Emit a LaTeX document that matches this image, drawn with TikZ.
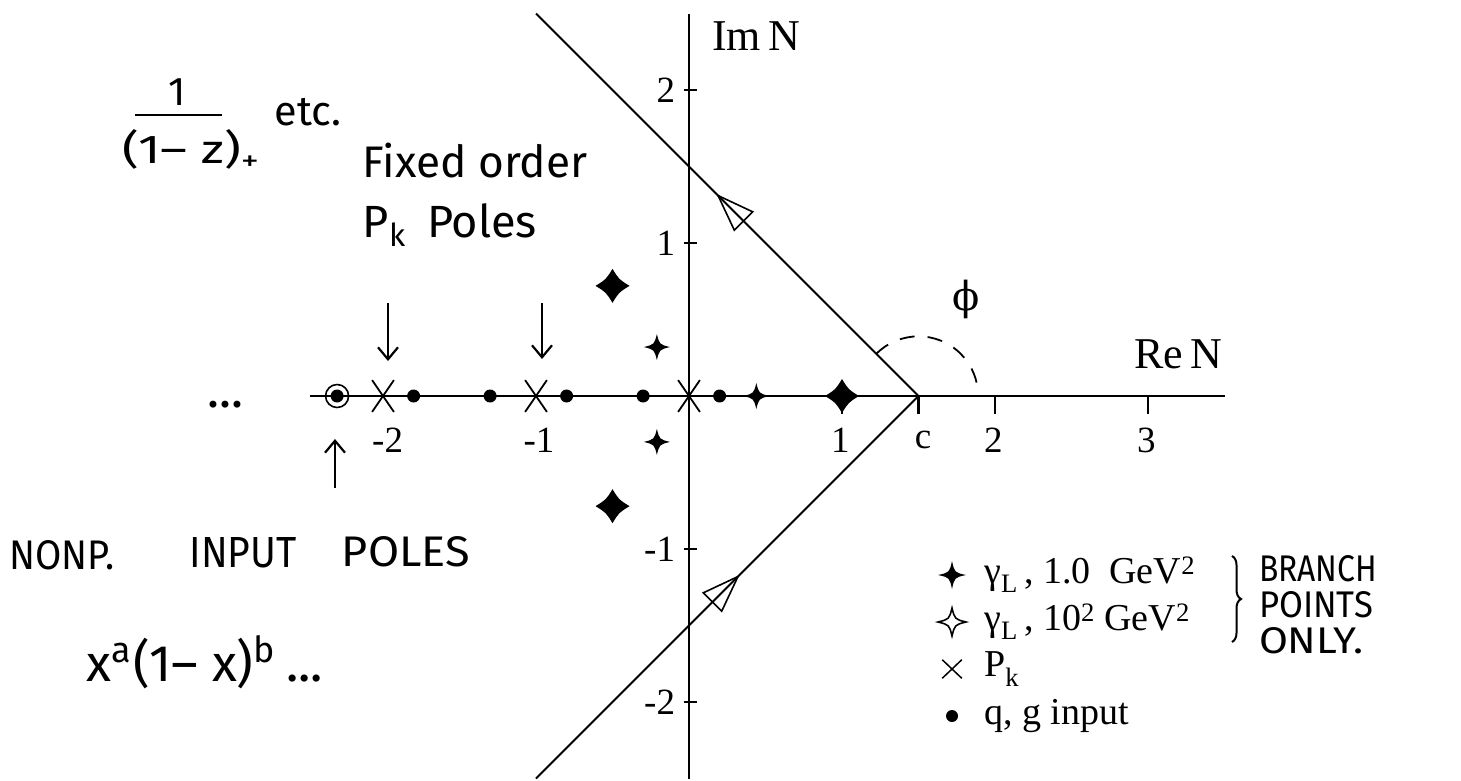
\documentclass[tikz,border=0pt]{standalone}
\usepackage{fontspec}
\usepackage{graphicx}
\setmainfont{Liberation Serif}
\newfontfamily\hand{Fira Sans}
\newfontfamily\dvs{DejaVu Serif}
\usetikzlibrary{arrows.meta,shapes.misc,decorations.pathreplacing,calc}
\newcommand\fs[1]{\fontsize{#1}{#1}\selectfont}
\begin{document}
\begin{tikzpicture}[x=1pt,y=-1pt,
  ax/.style={line width=2.2pt},
  ctr/.style={line width=1.8pt},
  tri/.style={line width=1.6pt, line join=miter},
  lab/.style={font=\fs{37}, inner sep=0},
  axlab/.style={font=\fs{44}, inner sep=0},
  leg/.style={font=\fs{38}, inner sep=0, anchor=west},
  hw/.style={font=\hand, inner sep=0},
  dotm/.style={circle, fill, inner sep=0, minimum size=13pt},
  ringm/.style={circle, draw, line width=1.6pt, inner sep=0, minimum size=23pt},
  xm/.style={cross out, draw, line width=1.8pt, inner sep=0, minimum width=20pt, minimum height=30pt},
  harr/.style={line width=2.2pt, -{Straight Barb[length=12pt,width=20pt]}},
  pics/astar/.style n args={3}{code={
    \path[#3] (0pt,#1) .. controls (#2*#1,#2*#1) .. (#1,0pt)
      .. controls (#2*#1,-#2*#1) .. (0pt,-#1)
      .. controls (-#2*#1,-#2*#1) .. (-#1,0pt)
      .. controls (-#2*#1,#2*#1) .. cycle;
  }}
]
\useasboundingbox (0,0) rectangle (1461,780);

% ---------- plot in data coordinates ----------
\begin{scope}[shift={(689,396)}, x=153pt, y=153pt]
  \coordinate (reL) at (-2.48,0);
  \coordinate (reR) at (3.5,0);
  \coordinate (imB) at (0,-2.5);
  \coordinate (imT) at (0,2.5);
  \draw[ax] (reL) -- (reR);
  \draw[ax] (imB) -- (imT);
  \foreach \y in {-2,-1,1,2} \draw[ax] (-0.035,\y) -- (0.055,\y);
  \foreach \x in {1,1.5,2,3} \draw[ax] (\x,0) -- (\x,-0.12);

  \node[lab, anchor=east] (ly2) at (-0.09,2) {2};
  \node[lab, anchor=east] (ly1) at (-0.09,1) {1};
  \node[lab, anchor=east] (lym1) at (-0.09,-1) {-1};
  \node[lab, anchor=east] (lym2) at (-0.09,-2) {-2};
  \node[lab] (lxm2) at (-1.97,-0.29) {-2};
  \node[lab] (lxm1) at (-0.98,-0.29) {-1};
  \node[lab] (lx1) at (0.99,-0.29) {1};
  \node[lab] (lxc) at (1.53,-0.29) {c};
  \node[lab] (lx2) at (1.99,-0.29) {2};
  \node[lab] (lx3) at (2.99,-0.29) {3};
  \node[axlab, anchor=west] (imN) at (0.15,2.35) {Im\,N};
  \node[axlab] (reN) at (3.2,0.27) {Re\,N};

  % contour
  \coordinate (c) at (1.5,0);
  \coordinate (ctop) at (-1,2.5);
  \coordinate (cbot) at (-1,-2.5);
  \draw[ctr] (cbot) -- (c) -- (ctop);
  \draw[tri] (0.19,1.31) -- (0.4165,1.2037) -- (0.2963,1.0835) -- cycle;
  \draw[tri] (0.32,-1.18) -- (0.2137,-1.4065) -- (0.0935,-1.2863) -- cycle;
  \draw[ctr, dash pattern=on 15pt off 13pt] ($(c)+(135:0.39)$) arc[start angle=135, end angle=0, radius=0.39];
  \node[inner sep=0, font=\dvs\fs{40}] (phi) at (1.81,0.63) {ϕ};

  % markers
  \node[ringm] (ring) at (-2.3,0) {};
  \node[dotm] (d0) at (-2.3,0) {};
  \node[xm] (x1) at (-2,0) {};
  \node[xm] (x2) at (-1,0) {};
  \node[xm] (x3) at (0,0) {};
  \foreach \x [count=\i] in {-1.8,-1.3,-0.8,-0.3,0.2} \node[dotm] (d\i) at (\x,0) {};
  \coordinate (s1) at (-0.21,0.32);
  \coordinate (s2) at (-0.21,-0.30);
  \coordinate (s3) at (0.44,0);
  \coordinate (b1) at (-0.5,0.72);
  \coordinate (b2) at (-0.5,-0.72);
  \coordinate (b3) at (1.0,0);
  \foreach \s in {s1,s2,s3} \pic at (\s) {astar={13pt}{0.2}{fill}};
  \foreach \b in {b1,b2,b3} \pic at (\b) {astar={17pt}{0.38}{fill}};
\end{scope}

% ---------- handwritten annotations ----------
\node[hw, font=\hand\fs{40}] (num) at (177,92) {1};
\coordinate (barL) at (135,115);
\coordinate (barR) at (222,115);
\draw[line width=2pt] (barL) -- (barR);
\node[hw] (den) at (192,150) {\resizebox{139pt}{34pt}{(1– z)\textsubscript{+}}};
\node[hw] (etc) at (308,112) {\resizebox{67pt}{!}{etc.}};
\node[hw] (fixed) at (475,161) {\resizebox{225pt}{!}{Fixed order}};
\node[hw] (pk) at (450,225) {\resizebox{174pt}{!}{P\textsubscript{k}\, Poles}};
\coordinate (a1s) at (388,303);
\coordinate (a1e) at (388,361);
\coordinate (a2s) at (542,303);
\coordinate (a2e) at (542,359);
\draw[harr] (a1s) -- (a1e);
\draw[harr] (a2s) -- (a2e);
\node[hw] (dots) at (225,405) {\resizebox{36pt}{!}{...}};
\coordinate (a3s) at (335,488);
\coordinate (a3e) at (335,439);
\draw[harr] (a3s) -- (a3e);
\node[hw] (nonp) at (62,555) {\resizebox{105pt}{29pt}{NONP.}};
\node[hw] (input) at (243,553) {\resizebox{107pt}{30pt}{INPUT}};
\node[hw] (poles) at (406,552) {\resizebox{128pt}{30pt}{POLES}};
\node[hw] (xab) at (205,662) {\resizebox{236pt}{!}{x\textsuperscript{a}(1– x)\textsuperscript{b}\,...}};

% ---------- legend ----------
\coordinate (lg1) at (952,575);
\coordinate (lg2) at (952,622);
\pic at (lg1) {astar={14pt}{0.18}{fill}};
\pic at (lg2) {astar={14pt}{0.2}{draw, line width=1.6pt}};
\node[leg] (lt1) at (984,575) {γ\textsubscript{L}\,,\ 1.0\ \ GeV\textsuperscript{2}};
\node[leg] (lt2) at (984,622) {γ\textsubscript{L}\,,\ 10\textsuperscript{2} GeV\textsuperscript{2}};
\node[xm, minimum width=18pt, minimum height=17pt, line width=1.5pt] (lg3) at (952,669) {};
\node[leg] (lt3) at (984,669) {P\textsubscript{k}};
\node[dotm, minimum size=12pt] (lg4) at (952,716) {};
\node[leg] (lt4) at (984,716) {q, g input};

\coordinate (brT) at (1232,556);
\coordinate (brB) at (1232,642);
\draw[line width=2pt, decorate, decoration={brace, amplitude=9pt}] (brT) -- (brB);
\node[hw] (branch) at (1318,569) {\resizebox{118pt}{26pt}{BRANCH}};
\node[hw] (points) at (1316,605) {\resizebox{114pt}{26pt}{POINTS}};
\node[hw] (only) at (1311,641) {\resizebox{104pt}{26pt}{ONLY.}};
\end{tikzpicture}
\end{document}
